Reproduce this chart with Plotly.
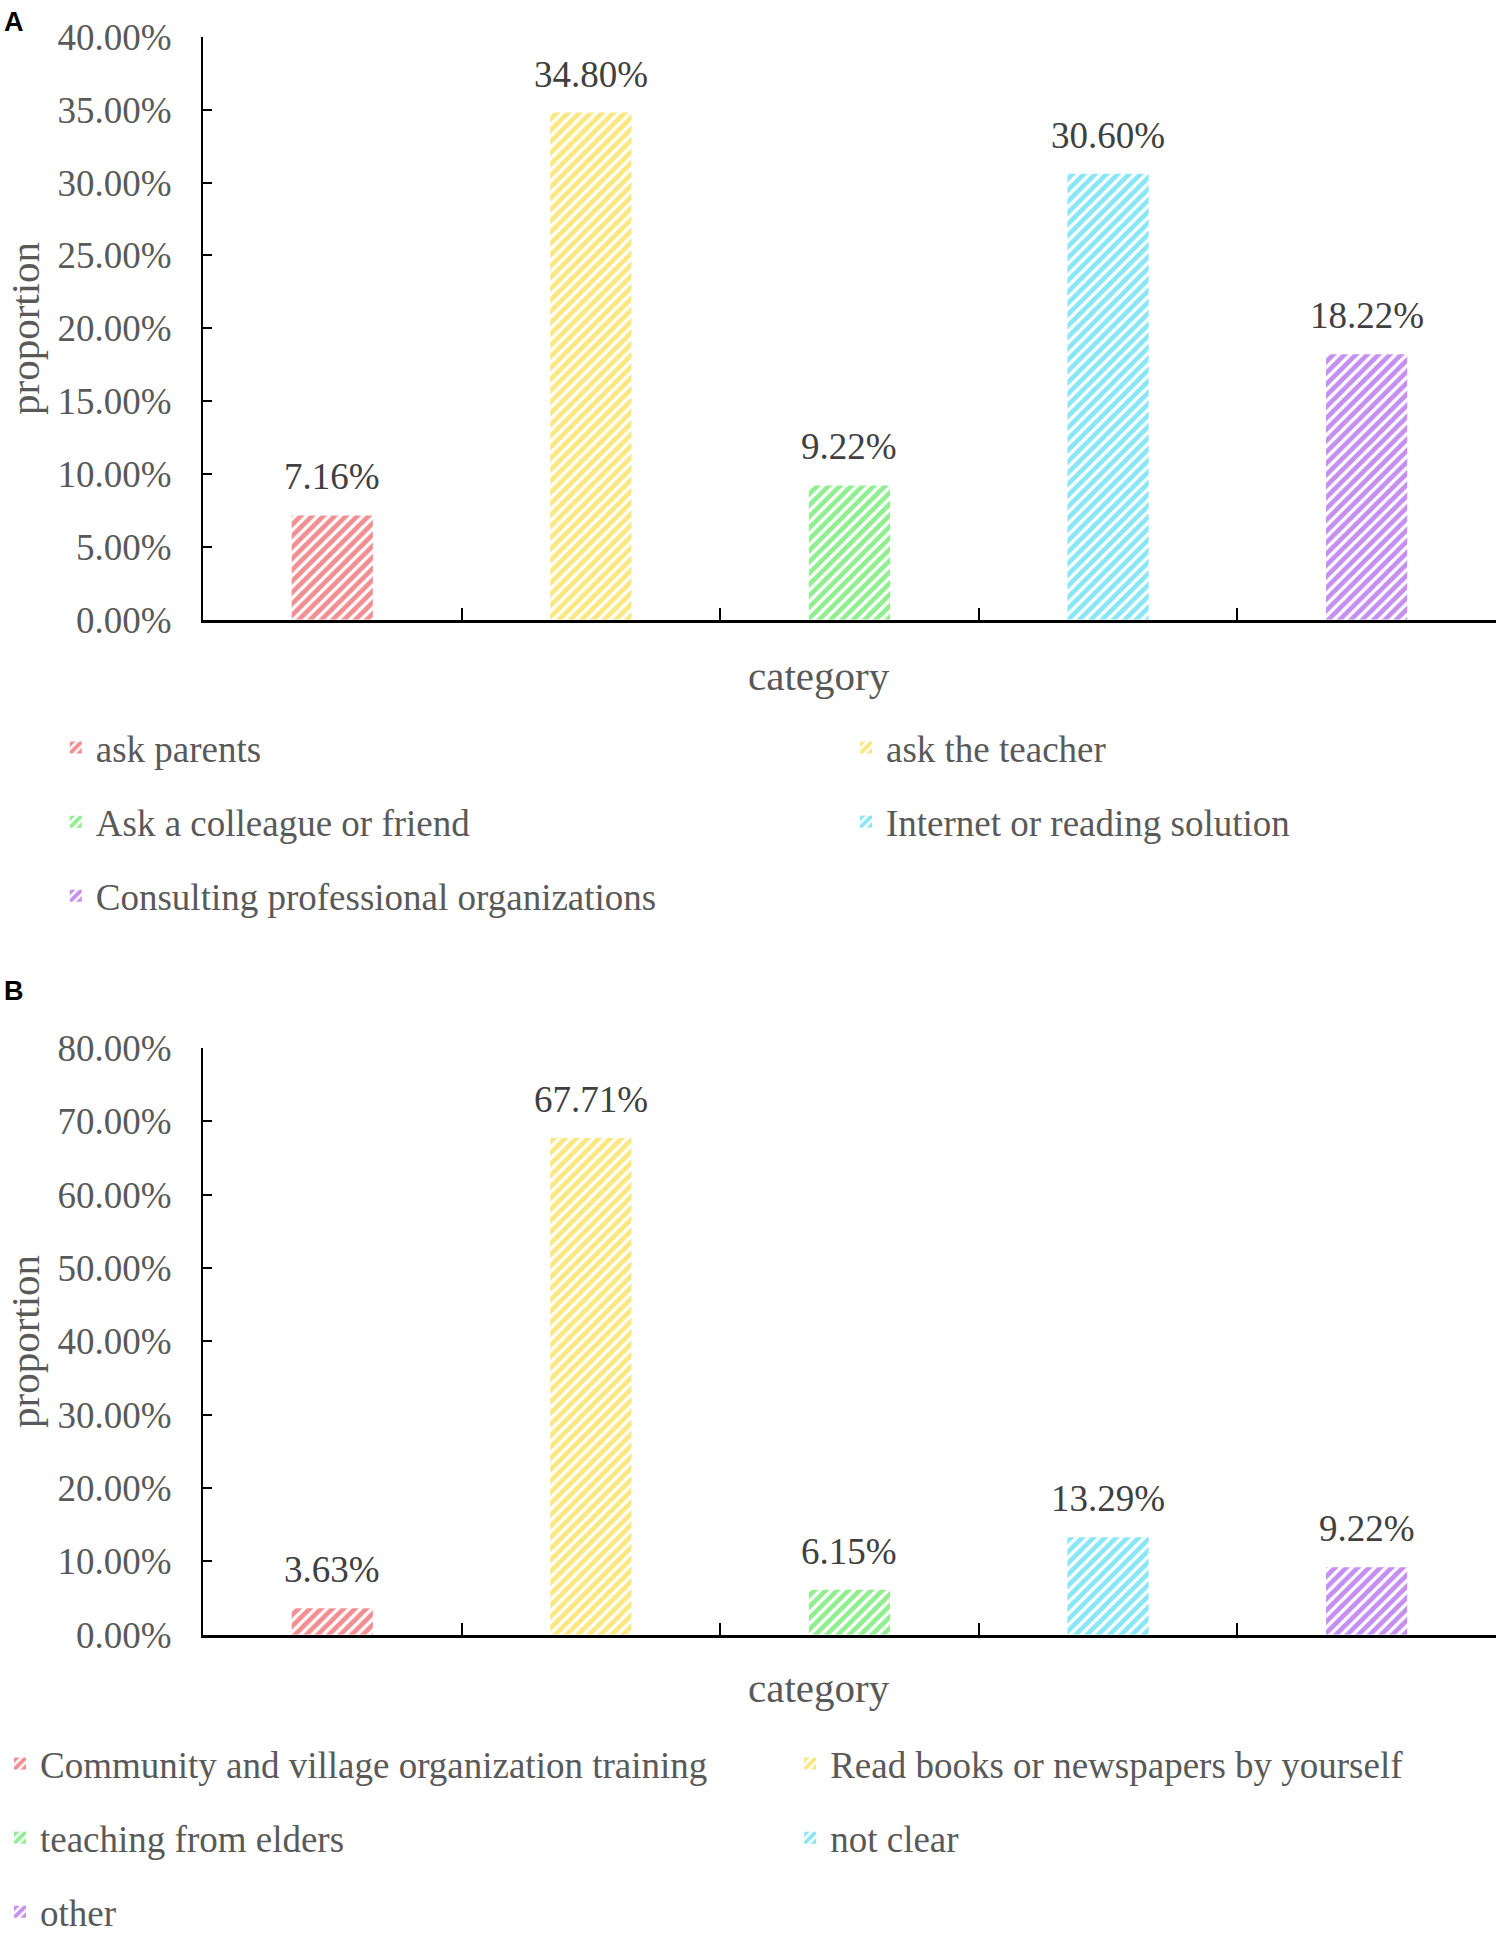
import plotly.graph_objects as go

# panel A
cats_a = ["ask parents", "ask the teacher", "Ask a colleague or friend",
          "Internet or reading solution", "Consulting professional organizations"]
vals_a = [7.16, 34.80, 9.22, 30.60, 18.22]

# panel B
cats_b = ["Community and village organization training", "Read books or newspapers by yourself",
          "teaching from elders", "not clear", "other"]
vals_b = [3.63, 67.71, 6.15, 13.29, 9.22]

colors = ["#E41E26", "#F7D000", "#22DD22", "#12CDEB", "#8A1FE0"]
# which legend column each bar goes to (left, right, left, right, left)
cols = ["L", "R", "L", "R", "L"]

font = "Liberation Serif"
grey = "#595959"

fig = go.Figure()

for i in range(5):
    fig.add_trace(go.Bar(
        x=[cats_a[i]], y=[vals_a[i]], name=cats_a[i],
        marker=dict(color="white", line_width=0,
                    pattern=dict(shape="/", fgcolor=colors[i], bgcolor="white", size=8, solidity=0.6)),
        width=0.314, xaxis="x", yaxis="y", legendgroup="a%d" % i,
        legend="legend" if cols[i] == "L" else "legend2",
    ))
    fig.add_annotation(x=cats_a[i], y=vals_a[i], xref="x", yref="y", text="%.2f%%" % vals_a[i],
                       showarrow=False, yanchor="bottom", yshift=16,
                       font=dict(family=font, size=37, color="#404040"))

for i in range(5):
    fig.add_trace(go.Bar(
        x=[cats_b[i]], y=[vals_b[i]], name=cats_b[i],
        marker=dict(color="white", line_width=0,
                    pattern=dict(shape="/", fgcolor=colors[i], bgcolor="white", size=8, solidity=0.6)),
        width=0.314, xaxis="x2", yaxis="y2", legendgroup="b%d" % i,
        legend="legend3" if cols[i] == "L" else "legend4",
    ))
    fig.add_annotation(x=cats_b[i], y=vals_b[i], xref="x2", yref="y2", text="%.2f%%" % vals_b[i],
                       showarrow=False, yanchor="bottom", yshift=16,
                       font=dict(family=font, size=37, color="#404040"))

xdom = [0.1346, 0.992]
xax = dict(domain=xdom, showline=True, linecolor="black", linewidth=3, ticks="inside",
           tickson="boundaries", ticklen=12, tickwidth=2, tickcolor="black", automargin=False,
           showticklabels=False, showgrid=False, zeroline=False, range=[-0.5, 4.5])
yax = dict(showline=True, linecolor="black", linewidth=2, ticks="inside", ticklen=9,
           tickwidth=2, tickcolor="black", showgrid=False, zeroline=False, automargin=False,
           tickformat=".2f", ticksuffix="%", ticklabelstandoff=22,
           tickfont=dict(family=font, size=37, color=grey))

leg = dict(orientation="v", bgcolor="rgba(0,0,0,0)", borderwidth=0, tracegroupgap=23,
           font=dict(family=font, size=37, color=grey), yanchor="top", xanchor="left")

fig.update_layout(
    width=1508, height=1937,
    margin=dict(l=0, r=0, t=0, b=0, autoexpand=False),
    plot_bgcolor="white", paper_bgcolor="white",
    barmode="overlay",
    showlegend=True,
    xaxis=dict(xax, anchor="y"),
    yaxis=dict(yax, domain=[0.680, 0.981], range=[0, 40], dtick=5, anchor="x"),
    xaxis2=dict(xax, anchor="y2"),
    yaxis2=dict(yax, domain=[0.156, 0.459], range=[0, 80], dtick=10, anchor="x2"),
    legend=dict(leg, x=0.037, y=1 - 717 / 1937),
    legend2=dict(leg, x=0.561, y=1 - 717 / 1937),
    legend3=dict(leg, x=0.0, y=1 - 1733 / 1937),
    legend4=dict(leg, x=0.524, y=1 - 1733 / 1937),
)

# panel letters and axis titles
for txt, y in [("A", 22), ("B", 991)]:
    fig.add_annotation(text="<b>%s</b>" % txt, x=2 / 1508, y=1 - y / 1937, xref="paper", yref="paper",
                       showarrow=False, xanchor="left", yanchor="middle",
                       font=dict(family="Liberation Sans", size=27, color="black"))
for y in [329, 1342]:
    fig.add_annotation(text="proportion", x=25 / 1508, y=1 - y / 1937, xref="paper", yref="paper",
                       showarrow=False, textangle=-90, xanchor="center", yanchor="middle",
                       font=dict(family=font, size=41, color=grey))
for y in [676, 1688]:
    fig.add_annotation(text="category", x=819 / 1508, y=1 - y / 1937, xref="paper", yref="paper",
                       showarrow=False, xanchor="center", yanchor="middle",
                       font=dict(family=font, size=41, color=grey))

# page body has a default 8px margin; drop it so the figure sits at the top-left corner
fig.write_html("out.html", config={"displayModeBar": False},
               post_script="document.body.style.margin='0';")
